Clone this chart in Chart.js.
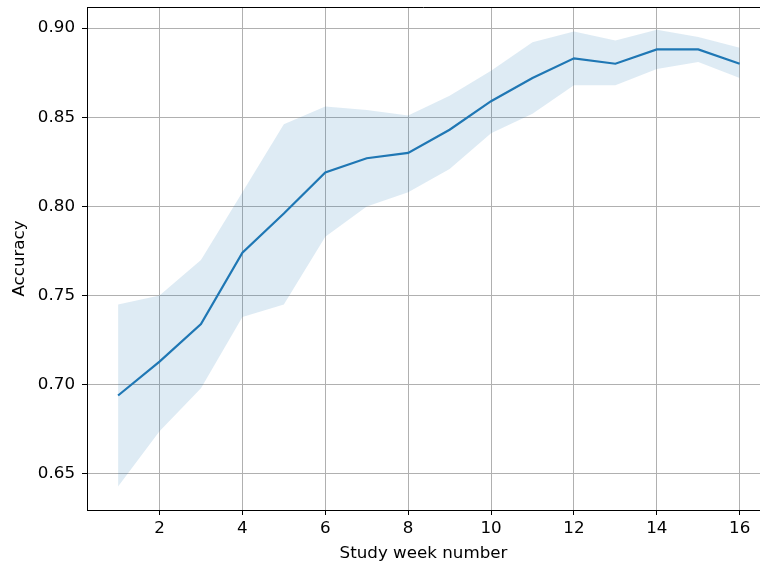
<!DOCTYPE html>
<html>
<head>
<meta charset="utf-8">
<script src="https://cdn.jsdelivr.net/npm/chart.js@4/dist/chart.umd.min.js"></script>
<style>
    html, body { margin: 0; padding: 0; background: #ffffff; }
    #wrap { width: 760px; height: 568px; position: relative; }
</style>
</head>
<body>
<div id="wrap"><canvas id="accChart" width="760" height="568"></canvas></div>
<script>
const weeks = [1, 2, 3, 4, 5, 6, 7, 8, 9, 10, 11, 12, 13, 14, 15, 16];
const meanAcc = [0.694, 0.713, 0.734, 0.774, 0.796, 0.819, 0.827, 0.830, 0.843, 0.859, 0.872, 0.883, 0.880, 0.888, 0.888, 0.880];
const upperAcc = [0.745, 0.750, 0.770, 0.808, 0.846, 0.856, 0.854, 0.851, 0.862, 0.876, 0.892, 0.898, 0.893, 0.899, 0.895, 0.889];
const lowerAcc = [0.643, 0.674, 0.698, 0.738, 0.745, 0.783, 0.800, 0.808, 0.821, 0.841, 0.852, 0.868, 0.868, 0.877, 0.881, 0.872];
const xTicks = [2, 4, 6, 8, 10, 12, 14, 16];
const yTicks = [0.65, 0.70, 0.75, 0.80, 0.85, 0.90];

const LINE_COLOR = '#1f77b4';
const BAND_COLOR = 'rgba(31, 119, 180, 0.15)';
const GRID_COLOR = '#b0b0b0';
const FONT = { family: 'DejaVu Sans', size: 16.7 };

const toPoints = (values) => weeks.map((w, i) => ({ x: w, y: values[i] }));

// matplotlib draws a top spine too; Chart.js only draws the axis borders
const topSpine = {
    id: 'topSpine',
    afterDraw(chart) {
        const { ctx, chartArea } = chart;
        ctx.save();
        ctx.strokeStyle = '#000000';
        ctx.lineWidth = 1;
        ctx.beginPath();
        ctx.moveTo(chartArea.left, chartArea.top + 0.5);
        ctx.lineTo(chartArea.right, chartArea.top + 0.5);
        ctx.stroke();
        ctx.restore();
    }
};

new Chart(document.getElementById('accChart'), {
    type: 'line',
    data: {
        datasets: [
            {
                label: 'upper',
                data: toPoints(upperAcc),
                borderWidth: 0,
                pointRadius: 0,
                backgroundColor: BAND_COLOR,
                fill: '+1',
                tension: 0,
                order: 2
            },
            {
                label: 'lower',
                data: toPoints(lowerAcc),
                borderWidth: 0,
                pointRadius: 0,
                backgroundColor: BAND_COLOR,
                fill: false,
                tension: 0,
                order: 2
            },
            {
                label: 'Accuracy',
                data: toPoints(meanAcc),
                borderColor: LINE_COLOR,
                borderWidth: 2.2,
                pointRadius: 0,
                fill: false,
                tension: 0,
                order: 1
            }
        ]
    },
    options: {
        responsive: false,
        animation: false,
        layout: { padding: { top: 7, right: 0, left: 0, bottom: 0 } },
        plugins: {
            legend: { display: false },
            tooltip: { enabled: false }
        },
        scales: {
            x: {
                type: 'linear',
                min: 0.25,
                max: 16.49,
                afterBuildTicks: (scale) => { scale.ticks = xTicks.map((v) => ({ value: v })); },
                afterFit: (scale) => { scale.height = 58; scale.paddingLeft = 0; scale.paddingRight = 0; },
                grid: { color: GRID_COLOR, lineWidth: 1, tickColor: '#000000', tickLength: 5 },
                border: { color: '#000000', width: 1 },
                ticks: { color: '#000000', font: FONT, padding: 4, maxRotation: 0 },
                title: { display: true, text: 'Study week number', color: '#000000', font: FONT, padding: { top: 0, bottom: 4 } }
            },
            y: {
                min: 0.6298,
                max: 0.9118,
                afterBuildTicks: (scale) => { scale.ticks = yTicks.map((v) => ({ value: v })); },
                afterFit: (scale) => { scale.width = 87; scale.paddingTop = 0; scale.paddingBottom = 0; },
                grid: { color: GRID_COLOR, lineWidth: 1, tickColor: '#000000', tickLength: 5 },
                border: { color: '#000000', width: 1 },
                ticks: { color: '#000000', font: FONT, padding: 7, callback: (v) => Number(v).toFixed(2) },
                title: { display: true, text: 'Accuracy', color: '#000000', font: FONT, padding: { top: 10, bottom: 0 } }
            }
        }
    },
    plugins: [topSpine]
});
</script>
</body>
</html>
